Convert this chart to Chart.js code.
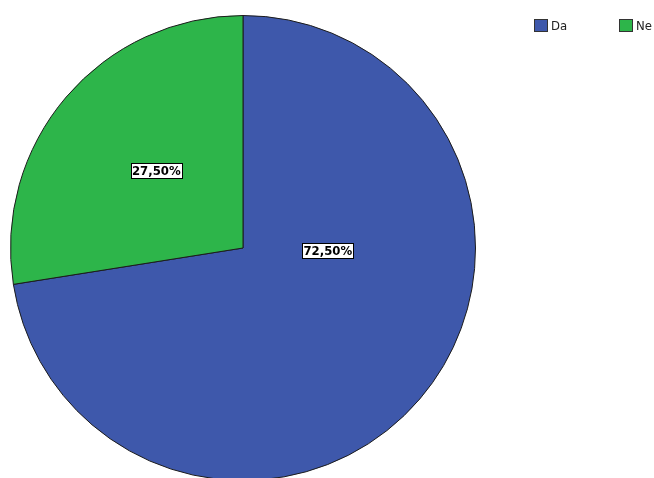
<!DOCTYPE html>
<html>
<head>
<meta charset="utf-8">
<script src="https://cdn.jsdelivr.net/npm/chart.js@4/dist/chart.umd.min.js"></script>
<style>
  html, body { margin: 0; padding: 0; background: #fff; overflow: hidden; }
  .wrap { position: absolute; left: 0; top: 0; width: 654px; height: 490px; }
  .legend { position: absolute; top: 19px; left: 534px; font: 13px "Liberation Sans Narrow", "DejaVu Sans Condensed", Arial, sans-serif; color: #222; }
  .legend span.item { position: absolute; top: 0; white-space: nowrap; line-height: 13px; }
  .legend i { display: inline-block; width: 12px; height: 11px; border: 1px solid #333; vertical-align: top; margin-right: 3px; }
</style>
</head>
<body>
<div class="wrap"><canvas id="pie"></canvas></div>
<div class="legend" id="legend"></div>
<script>
// answers and their shares
const categories = ['Da', 'Ne'];
const shares = [72.5, 27.5];
const colors = ['#3e58ab', '#2db54a'];

// legend
const legend = document.getElementById('legend');
categories.forEach((c, i) => {
  const el = document.createElement('span');
  el.className = 'item';
  el.style.left = (i * 85) + 'px';
  el.innerHTML = `<i style="background:${colors[i]}"></i>${c}`;
  legend.appendChild(el);
});

// boxed percent labels inside the slices
const boxLabels = {
  id: 'boxLabels',
  afterDatasetsDraw(chart, args, opts) {
    const { ctx } = chart;
    const meta = chart.getDatasetMeta(0);
    ctx.save();
    ctx.font = 'bold 13px "Liberation Sans Narrow", "DejaVu Sans Condensed", Arial, sans-serif';
    ctx.textAlign = 'center';
    ctx.textBaseline = 'middle';
    meta.data.forEach((arc, i) => {
      const p = opts.place[i];
      const a = (p.angle - 90) * Math.PI / 180;
      const x = arc.x + Math.cos(a) * arc.outerRadius * p.r;
      const y = arc.y + Math.sin(a) * arc.outerRadius * p.r;
      const text = shares[i].toFixed(2).replace('.', ',') + '%';
      const w = Math.round(ctx.measureText(text).width + 2);
      const h = 15;
      const bx = Math.round(x - w / 2) + 0.5;
      const by = Math.round(y - h / 2) + 0.5;
      ctx.fillStyle = '#fff';
      ctx.fillRect(bx, by, w, h);
      ctx.strokeStyle = '#000';
      ctx.lineWidth = 1;
      ctx.strokeRect(bx, by, w, h);
      ctx.fillStyle = '#000';
      ctx.fillText(text, x, y + 1);
    });
    ctx.restore();
  }
};

new Chart(document.getElementById('pie'), {
  type: 'pie',
  data: {
    labels: categories,
    datasets: [{
      data: shares,
      backgroundColor: colors,
      borderColor: '#1c1c1c',
      borderWidth: 1
    }]
  },
  options: {
    responsive: true,
    maintainAspectRatio: false,
    animation: false,
    layout: { padding: { top: 15, bottom: 9, left: 10, right: 178 } },
    plugins: {
      legend: { display: false },
      tooltip: { enabled: false },
      boxLabels: {
        place: [{ angle: 91.7, r: 0.365 }, { angle: 311.9, r: 0.501 }]
      }
    }
  },
  plugins: [boxLabels]
});
</script>
</body>
</html>
